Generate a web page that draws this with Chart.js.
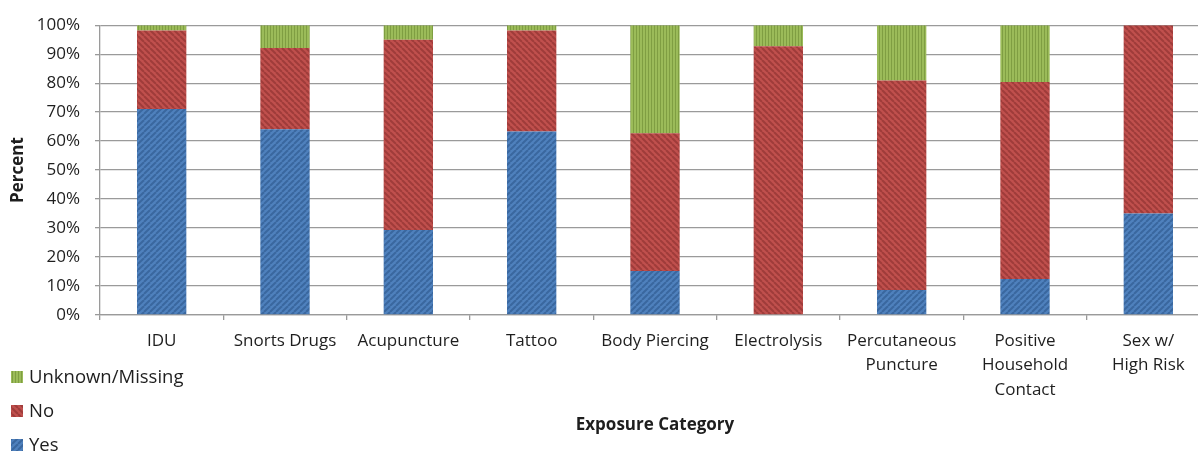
<!DOCTYPE html>
<html>
<head>
<meta charset="utf-8">
<title>Exposure Category</title>
<script src="https://cdn.jsdelivr.net/npm/chart.js@4.4.1/dist/chart.umd.min.js"></script>
<style>
  html, body { margin: 0; padding: 0; background: #fff; overflow: hidden; }
  #wrap { width: 1212px; height: 452px; position: relative; }
</style>
</head>
<body>
<div id="wrap"><canvas id="chart"></canvas></div>
<script>
// Exposure categories (multi-line labels as arrays)
const categories = [
  'IDU',
  'Snorts Drugs',
  'Acupuncture',
  'Tattoo',
  'Body Piercing',
  'Electrolysis',
  ['Percutaneous', 'Puncture'],
  ['Positive', 'Household', 'Contact'],
  ['Sex w/', 'High Risk']
];

// Percent of cases per answer
const yesValues     = [71.1, 64.1, 29.3, 63.3, 15.2, 0.0,  8.6, 12.4, 35.0];
const noValues      = [27.1, 28.0, 65.7, 34.9, 47.5, 92.7, 72.3, 68.0, 65.0];
const unknownValues = [ 1.8,  7.9,  5.0,  1.8, 37.3,  7.3, 19.1, 19.6,  0.0];

const yTicks = [0, 10, 20, 30, 40, 50, 60, 70, 80, 90, 100];

const FONT = '"Open Sans", "Noto Sans", sans-serif';
const TEXT = '#1e1e1e';
const GRID = '#9a9a9a';

// Striped fills: diagonal for Yes / No, vertical for Unknown
function stripePattern(base, stripe, kind) {
  const s = kind === 'vertical' ? 3 : 6;
  const c = document.createElement('canvas');
  c.width = s; c.height = s;
  const g = c.getContext('2d');
  g.fillStyle = base;
  g.fillRect(0, 0, s, s);
  g.strokeStyle = stripe;
  if (kind === 'vertical') {
    g.fillStyle = stripe;
    g.fillRect(0, 0, 1, s);
  } else {
    g.lineWidth = 2;
    for (let k = -s; k <= s; k += s) {
      g.beginPath();
      if (kind === 'up') { g.moveTo(k, s); g.lineTo(k + s, 0); }
      else { g.moveTo(k, 0); g.lineTo(k + s, s); }
      g.stroke();
    }
  }
  return g.createPattern(c, 'repeat');
}

const yesFill = stripePattern('#4f81bd', '#3a679f', 'up');
const noFill = stripePattern('#c0504d', '#9f3c3a', 'down');
const unknownFill = stripePattern('#9bbb59', '#7f9e42', 'vertical');

// Vertical legend in the lower-left corner, last series first
const sideLegend = {
  id: 'sideLegend',
  afterDraw(chart) {
    const ctx = chart.ctx;
    const items = chart.data.datasets.slice().reverse();
    ctx.save();
    ctx.font = '18.5px ' + FONT;
    ctx.textBaseline = 'middle';
    ctx.textAlign = 'left';
    items.forEach((ds, i) => {
      const cy = 377 + i * 34;
      ctx.fillStyle = ds.backgroundColor;
      ctx.fillRect(11, cy - 6, 12, 12);
      ctx.fillStyle = TEXT;
      ctx.fillText(ds.label, 29, cy + 1);
    });
    ctx.restore();
  }
};

new Chart(document.getElementById('chart'), {
  type: 'bar',
  data: {
    labels: categories,
    datasets: [
      { label: 'Yes', data: yesValues, backgroundColor: yesFill },
      { label: 'No', data: noValues, backgroundColor: noFill },
      { label: 'Unknown/Missing', data: unknownValues, backgroundColor: unknownFill }
    ]
  },
  options: {
    responsive: true,
    maintainAspectRatio: false,
    animation: false,
    layout: { padding: { top: 23, right: 2, left: 0, bottom: 0 } },
    datasets: { bar: { categoryPercentage: 0.4, barPercentage: 1.0, borderWidth: 0 } },
    plugins: {
      legend: { display: false },
      tooltip: { enabled: false }
    },
    scales: {
      x: {
        stacked: true,
        offset: true,
        grid: { display: true, drawOnChartArea: false, offset: true, color: GRID, tickLength: 5, lineWidth: 1.3 },
        border: { display: true, color: GRID, width: 1.3 },
        ticks: {
          color: TEXT,
          font: { family: FONT, size: 17, lineHeight: 1.43 },
          padding: 9,
          maxRotation: 0,
          autoSkip: false
        },
        title: {
          display: true,
          text: 'Exposure Category',
          color: TEXT,
          font: { family: FONT, size: 17, weight: 'bold', lineHeight: 1.2 },
          padding: { top: 0, bottom: 17 }
        },
        afterFit(scale) { scale.height = 137; }
      },
      y: {
        stacked: true,
        min: 0,
        max: 100,
        afterBuildTicks(scale) { scale.ticks = yTicks.map(v => ({ value: v })); },
        grid: { color: GRID, tickLength: 5, lineWidth: 1.3 },
        border: { display: true, color: GRID, width: 1.3 },
        ticks: {
          color: TEXT,
          font: { family: FONT, size: 17 },
          padding: 15,
          callback: v => v + '%'
        },
        title: {
          display: true,
          text: 'Percent',
          color: TEXT,
          font: { family: FONT, size: 17, weight: 'bold', lineHeight: 1.2 },
          padding: { top: 8, bottom: 0 }
        },
        afterFit(scale) { scale.width = 100; }
      }
    }
  },
  plugins: [sideLegend]
});
</script>
</body>
</html>
